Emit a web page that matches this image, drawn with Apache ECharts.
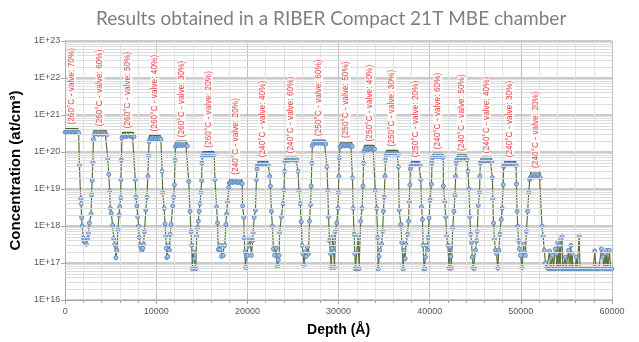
<!DOCTYPE html>
<html>
<head>
<meta charset="utf-8">
<script src="https://cdn.jsdelivr.net/npm/echarts@6/dist/echarts.min.js"></script>
<style>
html, body { margin: 0; padding: 0; background: #fff; }
#chart { width: 639px; height: 342px; }
</style>
</head>
<body>
<div id="chart"></div>
<script>
// SIMS profile: [depth (Å), concentration (at/cm3)]
var simsProfile = [
  // peak 1
  [0,3.4e20],[150,3.6e20],[300,3.5e20],[450,3.4e20],[600,3.6e20],[750,3.5e20],[900,3.4e20],[1050,3.5e20],[1200,3.6e20],[1350,3.4e20],[1480,3.3e20],
  [1560,4.4e19],[1700,5.6e18],[1750,4e18],[1800,1.7e18],[1860,1e18],[2000,4.7e17],[2080,3.8e17],[2150,4e17],[2330,3.2e17],[2480,4.7e17],[2550,6.3e17],[2660,1.2e18],[2840,2.1e18],[2900,7e18],[2960,1.7e19],[3030,5.2e19],
  // peak 2
  [3100,2.2e20],[3200,3.0e20],[3350,3.2e20],[3500,3.1e20],[3650,3.0e20],[3800,3.2e20],[3950,3.1e20],[4100,3.0e20],[4250,3.2e20],[4400,3.1e20],[4550,2.9e20],
  [4680,6.5e19],[4780,2.5e19],[4886,9e18],[4950,3e18],[5060,2.2e18],[5210,1.05e18],[5320,4.6e17],[5430,3.1e17],[5570,1.4e17],[5680,2.2e17],[5790,8e17],[5900,2e18],[5980,3.3e18],[6090,5.8e18],[6120,1.8e19],[6170,6e19],
  // peak 3
  [6230,2.4e20],[6350,2.7e20],[6500,2.8e20],[6650,2.6e20],[6800,2.7e20],[6950,2.8e20],[7100,2.7e20],[7250,2.6e20],[7400,2.7e20],[7550,2.6e20],
  [7690,1.8e19],[7760,6e18],[7870,3.5e18],[7960,1.8e18],[8055,1e18],[8120,4.9e17],[8240,3e17],[8340,2.6e17],[8416,2.2e17],[8500,2.5e17],[8602,3.2e17],[8700,7e17],[8853,2.7e18],[8963,6e18],[9072,2.2e19],[9150,8e19],
  // peak 4
  [9200,1.9e20],[9300,2.2e20],[9450,2.3e20],[9600,2.4e20],[9750,2.3e20],[9900,2.2e20],[10050,2.3e20],[10200,2.4e20],[10350,2.3e20],[10500,2.2e20],
  [10640,3e19],[10700,8e18],[10855,3e18],[10963,1.15e18],[11040,5.4e17],[11100,2.5e17],[11150,1.4e17],[11260,1.5e17],[11350,3e17],[11440,2.2e17],[11530,6e17],[11620,1.1e18],[11800,3.5e18],[11900,6e18],[11990,1.3e19],[12050,6e19],
  // peak 5
  [12100,1.4e20],[12200,1.5e20],[12350,1.6e20],[12500,1.5e20],[12650,1.6e20],[12800,1.5e20],[12950,1.55e20],[13100,1.6e20],[13250,1.5e20],[13400,1.45e20],
  [13560,1.6e19],[13695,2.5e18],[13805,7e17],[13880,3e17],[13960,7e16],[14070,2e17],[14180,1.3e17],[14320,7e16],[14430,5.4e17],[14520,9e17],[14610,1.35e18],[14700,2.5e18],[14790,4e18],[14900,8e18],[14975,1.7e19],[15000,5e19],
  // peak 6
  [15050,7.5e19],[15150,8.5e19],[15300,8.8e19],[15450,8.4e19],[15600,8.7e19],[15750,8.5e19],[15900,8.8e19],[16050,8.6e19],[16200,8.3e19],[16350,8.5e19],
  [16430,1.8e19],[16610,3.3e18],[16720,1.2e18],[16800,2.3e17],[16975,2.3e17],[17060,3e17],[17160,1.5e17],[17345,1.6e17],[17520,3e17],[17630,1.1e18],[17710,2.1e18],[17820,4.5e18],[17960,1.1e19],[18020,1.45e19],
  // peak 7
  [18100,1.5e19],[18250,1.6e19],[18400,1.5e19],[18550,1.55e19],[18700,1.6e19],[18850,1.5e19],[19000,1.55e19],[19150,1.5e19],[19300,1.45e19],[19420,1.4e19],
  [19470,3.5e18],[19600,1.7e18],[19640,4.7e17],[19720,2e17],[19785,7.5e16],[19880,1.5e17],[20000,1.6e17],[20130,3e17],[20255,4.5e17],[20440,1.6e17],[20560,4e17],[20625,6.6e17],[20735,1.7e18],[20880,2.7e18],[20985,1.8e19],[21050,3.5e19],
  // peak 8
  [21100,4.3e19],[21250,4.6e19],[21400,4.8e19],[21550,4.5e19],[21700,4.7e19],[21850,4.6e19],[22000,4.8e19],[22150,4.5e19],[22300,4.4e19],
  [22450,2.2e19],[22520,1.2e19],[22630,2.5e18],[22740,9.8e17],[22850,2.4e17],[22990,1.6e17],[23150,2.5e17],[23280,8e16],[23380,1.2e17],[23470,1.6e17],[23530,6.6e17],[23720,1.8e18],[23900,4e18],[24010,9.5e18],[24070,3e19],
  // peak 9
  [24120,5.5e19],[24250,6.2e19],[24400,6.4e19],[24550,6e19],[24700,6.3e19],[24850,6.2e19],[25000,6.4e19],[25150,6.1e19],[25300,6.3e19],[25450,6e19],
  [25560,3e19],[25650,9e18],[25795,4e18],[25900,1.3e18],[26000,3e17],[26090,1.8e17],[26200,8.7e16],[26340,2e17],[26450,1.5e17],[26560,2.7e17],[26700,1.8e17],[26810,1.35e18],[26920,3.8e18],[27000,1.2e19],[27060,5e19],
  // peak 10
  [27120,1.5e20],[27250,1.7e20],[27400,1.8e20],[27550,1.75e20],[27700,1.7e20],[27850,1.8e20],[28000,1.75e20],[28150,1.85e20],[28300,1.7e20],[28450,1.75e20],[28600,1.65e20],
  [28720,4e19],[28820,9e18],[28890,1.8e18],[29000,4e17],[29105,1.8e17],[29180,7.5e16],[29280,2.5e17],[29370,5.4e17],[29460,2e17],[29545,7.5e16],[29655,7.2e17],[29800,1.2e18],[29915,3e18],[29980,8e18],[30025,2.2e19],[30080,7e19],
  // peak 11
  [30150,1.35e20],[30300,1.5e20],[30450,1.55e20],[30600,1.45e20],[30750,1.5e20],[30900,1.55e20],[31050,1.5e20],[31200,1.45e20],[31350,1.5e20],[31500,1.4e20],
  [31520,2e19],[31600,3e18],[31700,6e17],[31780,1.8e17],[31850,7e16],[31990,7e16],[32140,5.4e17],[32250,7e16],[32420,1.35e18],[32570,3e18],[32680,1.2e19],[32740,5e19],
  // peak 12
  [32780,1.05e20],[32900,1.2e20],[33050,1.25e20],[33200,1.15e20],[33350,1.2e20],[33500,1.25e20],[33650,1.2e20],[33800,1.15e20],[33950,1.2e20],
  [34025,9e18],[34180,3e18],[34290,4.9e17],[34350,6.8e16],[34440,1.5e17],[34540,2.2e17],[34720,3.2e17],[34830,7.2e17],[34920,2.5e18],[35010,6e18],[35085,2.2e19],[35150,6e19],
  // peak 13
  [35200,8e19],[35350,9e19],[35500,9.3e19],[35650,8.8e19],[35800,9.2e19],[35950,9e19],[36100,8.8e19],[36250,9.2e19],[36400,9e19],[36550,8.5e19],
  [36570,4e19],[36650,2.7e18],[36830,1.1e18],[36940,3.6e17],[37085,6.8e16],[37195,2.2e17],[37300,1.3e17],[37380,3.2e17],[37565,6e17],[37675,1.35e18],[37750,4.5e18],[37820,1.3e19],[37880,3.5e19],
  // peak 14
  [37930,4.2e19],[38050,4.6e19],[38200,4.8e19],[38350,4.5e19],[38500,4.7e19],[38650,4.6e19],[38800,4.8e19],[38950,4.4e19],
  [39020,1.8e19],[39100,3.3e18],[39205,1.5e18],[39270,3e17],[39380,6.5e16],[39455,7e16],[39540,1.45e17],[39650,3e17],[39750,2.2e17],[39820,4.9e17],[39930,1.65e18],[40040,5e18],[40190,1.35e19],[40250,5e19],
  // peak 15
  [40300,7e19],[40450,7.6e19],[40600,7.9e19],[40750,7.5e19],[40900,7.8e19],[41050,7.6e19],[41200,7.9e19],[41350,7.4e19],[41480,7.2e19],
  [41500,1.2e19],[41645,4.5e18],[41750,1.8e18],[41860,5.4e17],[42000,3e17],[42110,7.2e16],[42220,2.7e17],[42300,1.5e17],[42375,7.2e16],[42520,9e17],[42660,2.5e18],[42770,6.8e18],[42845,2.2e19],[42900,5e19],
  // peak 16
  [42950,6e19],[43100,6.5e19],[43250,6.8e19],[43400,6.3e19],[43550,6.6e19],[43700,6.5e19],[43850,6.8e19],[44000,6.3e19],[44120,6.1e19],
  [44200,3e19],[44300,1e19],[44410,1.8e18],[44485,6e17],[44595,3.6e17],[44670,1.45e17],[44780,7.2e16],[44920,7.2e16],[45030,2.2e17],[45130,4e17],[45220,7.2e17],[45325,3.6e18],[45470,8e18],[45500,2.2e19],[45560,5e19],
  // peak 17
  [45600,5.3e19],[45750,5.8e19],[45900,6e19],[46050,5.6e19],[46200,5.9e19],[46350,5.8e19],[46500,6e19],[46650,5.6e19],[46800,5.4e19],
  [46880,2e19],[46920,5.5e18],[47000,1.2e18],[47100,4.5e17],[47215,2.2e17],[47325,1.8e17],[47470,7.2e16],[47580,2.2e17],[47690,6e17],[47840,1.5e18],[47950,3e18],[48060,1.3e19],[48120,4e19],
  // peak 18
  [48160,4.3e19],[48300,4.6e19],[48450,4.8e19],[48600,4.5e19],[48750,4.7e19],[48900,4.6e19],[49050,4.8e19],[49200,4.5e19],[49350,4.6e19],[49480,4.3e19],
  [49510,1.35e19],[49590,2.5e18],[49655,9.8e17],[49750,4e17],[49840,2.4e17],[49950,1.6e17],[50135,7.6e16],[50310,3.2e17],[50400,2e17],[50500,1.6e17],[50610,7.2e17],[50750,2.5e18],[50860,8e18],[50970,1.8e19],
  // peak 19
  [51030,2e19],[51150,2.2e19],[51300,2.3e19],[51450,2.1e19],[51600,2.3e19],[51750,2.2e19],[51900,2.3e19],[52050,2.1e19],[52150,2e19],
  // background after the last layer
  [52320,9.8e17],[52430,5.4e17],[52575,2.2e17],[52700,1e17],[52850,7.5e16],[52980,7.2e16],[53060,7e16],[53150,2.1e17],[53250,7e16],[53330,7.2e16],[53480,1.6e17],[53580,7e16],[53680,7e16],[53775,2.4e17],[53885,1.8e17],[53950,7e16],[54030,3.6e17],[54130,7e16],[54250,3e17],[54330,7e16],[54400,4.5e17],[54510,5.4e17],[54600,7e16],[54690,7e16],[54780,7.2e16],[54870,1.45e17],[54960,7e16],[55060,7e16],[55150,7e16],[55230,2.2e17],[55330,7e16],[55400,7e16],[55490,3e17],[55560,7e16],[55630,1.8e17],[55730,7e16],[55850,7e16],[55960,7e16],[56070,1.45e17],[56180,7e16],[56300,7e16],[56400,5.4e17],[56500,7e16],[56650,7e16],[56800,7e16],[56950,7.2e16],[57100,7e16],[57250,7e16],[57400,7e16],[57550,7e16],[57700,6.8e16],[57850,7e16],[57950,7e16],[58110,2.1e17],[58250,7e16],[58400,7e16],[58550,7e16],[58700,7e16],[58840,2.4e17],[58990,1.45e17],[59100,7e16],[59240,1.8e17],[59330,7e16],[59430,2.2e17],[59550,7e16],[59710,2.2e17],[59865,7e16],[59975,7e16]
];

// plateau of each layer (green trace) and its label
var peakStart = [0,3100,6230,9200,12100,15050,18000,21100,24120,27120,30150,32780,35200,37930,40300,42950,45600,48160,51030];
var peakEnd   = [1480,4550,7550,10500,13400,16350,19420,22300,25450,28600,31500,33950,36550,38950,41480,44120,46800,49480,52150];
var peakTop   = [4.3e20,3.9e20,3.4e20,2.8e20,1.95e20,1.02e20,1.9e19,5.6e19,7.2e19,2.1e20,1.85e20,1.5e20,1.1e20,5.6e19,9.2e19,8.3e19,7.2e19,5.6e19,2.9e19];
var peakBase  = [3.5e20,3.1e20,2.7e20,2.3e20,1.55e20,8.5e19,1.5e19,4.6e19,6.2e19,1.75e20,1.5e20,1.2e20,9e19,4.6e19,7.6e19,6.5e19,5.8e19,4.6e19,2.2e19];
var peakLabels = [
  '(260°C - valve: 70%)','(260°C - valve: 60%)','(260°C - valve: 50%)','(260°C - valve: 40%)','(260°C - valve: 30%)','(260°C - valve: 20%)',
  '(240°C - valve: 20%)','(240°C - valve: 40%)','(240°C - valve: 60%)',
  '(250°C - valve: 60%)','(250°C - valve: 50%)','(250°C - valve: 40%)','(250°C - valve: 30%)','(250°C - valve: 20%)',
  '(240°C - valve: 60%)','(240°C - valve: 50%)','(240°C - valve: 40%)','(240°C - valve: 30%)','(240°C - valve: 20%)'
];

var envelope = [];
var labelPts = [];
for (var i = 0; i < peakStart.length; i++) {
  envelope.push([peakStart[i], peakBase[i]], [peakStart[i] + 80, peakTop[i]],
                [peakEnd[i] - 80, peakTop[i]], [peakEnd[i], peakBase[i]], [peakEnd[i], '-']);
  labelPts.push([(peakStart[i] + peakEnd[i]) / 2, peakTop[i]]);
}

// minor log grid lines (2..9 x 10^n)
var minorLines = [];
for (var n = 16; n < 23; n++) {
  for (var k = 2; k <= 9; k++) minorLines.push({ yAxis: k * Math.pow(10, n) });
}

var myChart = echarts.init(document.getElementById('chart'));
var option = {
  animation: false,
  backgroundColor: '#fff',
  title: {
    text: 'Results obtained in a RIBER Compact 21T MBE chamber',
    left: 91,
    top: 4,
    textStyle: { color: '#7f7f7f', fontSize: 19, fontWeight: 'normal', fontFamily: 'Lato' }
  },
  grid: { left: 63, right: 27, top: 41, bottom: 34, containLabel: false },
  xAxis: {
    type: 'value',
    min: 0,
    max: 60000,
    interval: 10000,
    name: 'Depth (Å)',
    nameLocation: 'middle',
    nameGap: 23,
    nameTextStyle: { color: '#000', fontSize: 14, fontWeight: 'bold', fontFamily: 'Liberation Sans' },
    axisLine: { lineStyle: { color: '#a6a6a6' } },
    axisTick: { length: 4, lineStyle: { color: '#a6a6a6' } },
    minorTick: { show: true, splitNumber: 5, length: 3, lineStyle: { color: '#a6a6a6' } },
    axisLabel: {
      color: '#595959', fontSize: 9, fontFamily: 'Liberation Sans', margin: 7,
      formatter: function (v) { return String(v); }
    },
    splitLine: { show: true, lineStyle: { color: '#bfbfbf' } },
    minorSplitLine: { show: true, lineStyle: { color: '#e2e2e2' } }
  },
  yAxis: {
    type: 'log',
    logBase: 10,
    min: 1e16,
    max: 1e23,
    splitNumber: 7,
    name: 'Concentration (at/cm³)',
    nameLocation: 'middle',
    nameGap: 40,
    nameTextStyle: { color: '#000', fontSize: 15, fontWeight: 'bold', fontFamily: 'Liberation Sans' },
    axisLine: { show: true, lineStyle: { color: '#a6a6a6' } },
    axisTick: { show: true, length: 4, lineStyle: { color: '#a6a6a6' } },
    axisLabel: {
      color: '#595959', fontSize: 9, fontFamily: 'Liberation Sans', margin: 5,
      formatter: function (v) { return '1E+' + Math.round(Math.log10(v)); }
    },
    splitLine: { show: true, lineStyle: { color: '#cbcbcb', width: 2 } }
  },
  series: [
    {
      name: 'grid',
      type: 'line',
      data: [],
      silent: true,
      markLine: {
        silent: true,
        symbol: ['none', 'none'],
        label: { show: false },
        lineStyle: { color: '#dcdcdc', width: 1, type: 'solid' },
        data: minorLines
      }
    },
    {
      name: 'envelope',
      type: 'line',
      data: envelope,
      symbol: 'none',
      connectNulls: false,
      lineStyle: { color: '#4f6228', width: 1.3 },
      z: 3
    },
    {
      name: 'SIMS',
      type: 'line',
      data: simsProfile,
      symbol: 'circle',
      symbolSize: 4,
      showSymbol: true,
      lineStyle: { color: '#5b7436', width: 1.2 },
      itemStyle: { color: '#a7c1e4', borderColor: '#5b8bc9', borderWidth: 1 },
      z: 4
    },
    {
      name: 'labels',
      type: 'scatter',
      data: labelPts,
      symbolSize: 0,
      silent: true,
      z: 6,
      label: {
        show: true,
        position: 'top',
        distance: 3,
        rotate: 90,
        align: 'left',
        verticalAlign: 'middle',
        color: '#ff0000',
        fontSize: 8.3,
        fontFamily: 'Liberation Sans',
        backgroundColor: '#fff',
        padding: [1, 1, 0, 1],
        formatter: function (p) { return peakLabels[p.dataIndex]; }
      }
    }
  ]
};
myChart.setOption(option);
window.addEventListener('resize', function () {
  myChart.resize();
});
</script>
</body>
</html>
